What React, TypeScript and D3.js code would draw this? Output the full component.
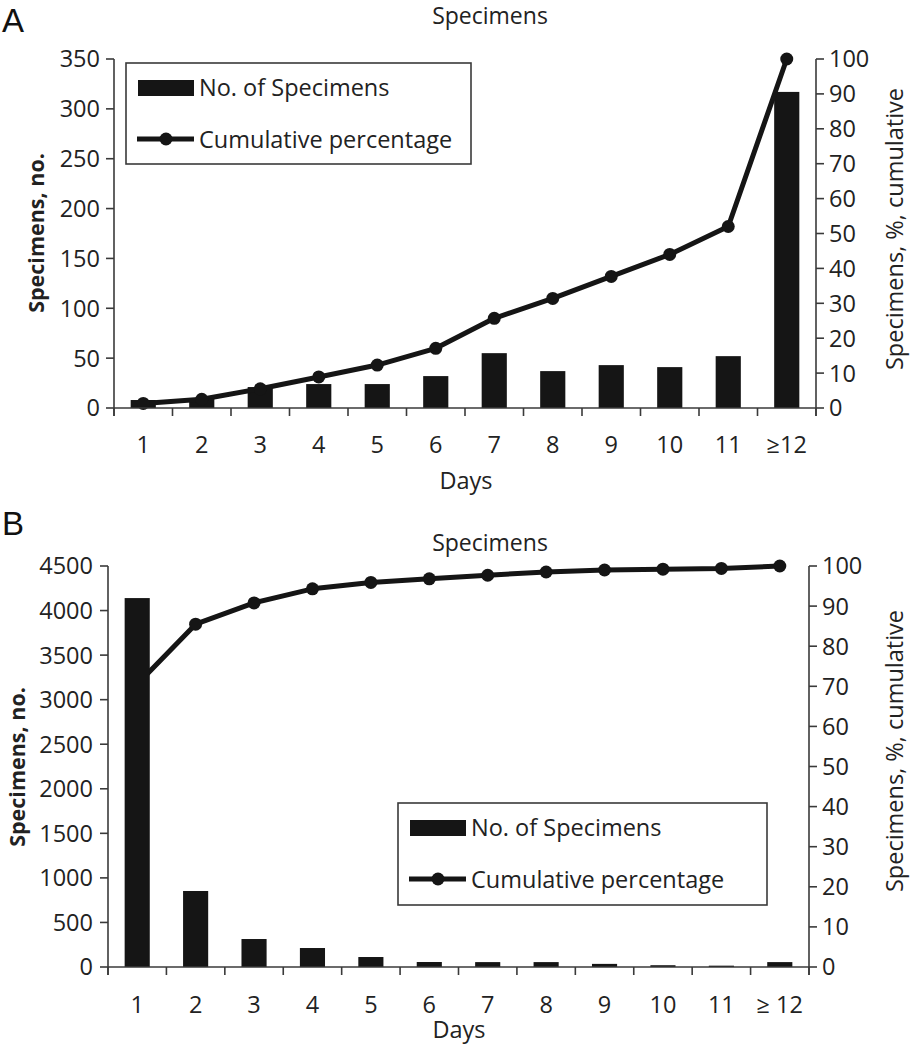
import React from "react";
import * as d3 from "d3";

// ---------- Data ----------
const daysA = ["1", "2", "3", "4", "5", "6", "7", "8", "9", "10", "11", "≥12"];
const countsA = [8, 9, 21, 24, 24, 32, 55, 37, 43, 41, 52, 317];
const cumulativeA = [1.3, 2.5, 5.5, 8.9, 12.3, 17.1, 25.7, 31.4, 37.7, 44, 52, 100];
const leftTicksA = [0, 50, 100, 150, 200, 250, 300, 350];

const daysB = ["1", "2", "3", "4", "5", "6", "7", "8", "9", "10", "11", "≥ 12"];
const countsB = [4140, 853, 314, 213, 112, 56, 55, 55, 35, 20, 15, 55];
const cumulativeB = [70.5, 85.5, 90.8, 94.3, 95.9, 96.8, 97.7, 98.5, 99.0, 99.2, 99.4, 100];
const leftTicksB = [0, 500, 1000, 1500, 2000, 2500, 3000, 3500, 4000, 4500];

const rightTicks = [0, 10, 20, 30, 40, 50, 60, 70, 80, 90, 100];

const FONT = "'Open Sans', sans-serif";
const AXIS = "#3a3a3a";
const INK = "#151515";
const TXT = "#222";
const FS = 23.5;

type PanelProps = {
  letter: string;
  letterY: number;
  days: string[];
  counts: number[];
  cum: number[];
  leftTicks: number[];
  leftMax: number;
  x0: number;
  x1: number;
  yTop: number;
  yBot: number;
  titleY: number;
  daysX: number;
  daysY: number;
  tickLabelY: number;
  leftLabelX: number;
  leftTitleX: number;
  leftTitleY: number;
  rightTitleX: number;
  rightTitleY: number;
  legend: { x: number; y: number; w: number; h: number };
  barsOnTop: boolean;
};

function Panel(p: PanelProps) {
  const x = d3.scaleBand<string>().domain(p.days).range([p.x0, p.x1]).paddingInner(0.57).paddingOuter(0.285);
  const yL = d3.scaleLinear().domain([0, p.leftMax]).range([p.yBot, p.yTop]);
  const yR = d3.scaleLinear().domain([0, 100]).range([p.yBot, p.yTop]);
  const step = x.step();
  const cx = (d: string) => (x(d) as number) + x.bandwidth() / 2;
  const line = d3
    .line<number>()
    .x((_, i) => cx(p.days[i]))
    .y((v) => yR(v));
  const boundaries = d3.range(p.days.length + 1).map((i) => p.x0 + i * step);

  const bars = (
    <g>
      {p.counts.map((v, i) => (
        <rect key={i} x={x(p.days[i])} y={yL(v)} width={x.bandwidth()} height={p.yBot - yL(v)} fill={INK} />
      ))}
    </g>
  );
  const lineG = (
    <g>
      <path d={line(p.cum) || ""} fill="none" stroke={INK} strokeWidth={5} strokeLinejoin="round" />
      {p.cum.map((v, i) => (
        <circle key={i} cx={cx(p.days[i])} cy={yR(v)} r={6.5} fill={INK} />
      ))}
    </g>
  );
  const lg = p.legend;
  return (
    <g fontFamily={FONT} fill={TXT}>
      <text x={2} y={p.letterY} fontSize={33} fontFamily="'Liberation Sans', Arial, sans-serif" fill="#111">
        {p.letter}
      </text>
      <text x={490} y={p.titleY} fontSize={23} textAnchor="middle">
        Specimens
      </text>
      {p.barsOnTop ? lineG : bars}
      {p.barsOnTop ? bars : lineG}
      {/* axes */}
      <g stroke={AXIS} strokeWidth={1.6} fill="none">
        <line x1={p.x0} x2={p.x0} y1={p.yTop} y2={p.yBot + 8} />
        <line x1={p.x1} x2={p.x1} y1={p.yTop} y2={p.yBot + 8} />
        <line x1={p.x0} x2={p.x1} y1={p.yBot} y2={p.yBot} />
        {boundaries.map((bx, i) => (
          <line key={"b" + i} x1={bx} x2={bx} y1={p.yBot} y2={p.yBot + 8} />
        ))}
        {p.leftTicks.map((t) => (
          <line key={"l" + t} x1={p.x0 - 8} x2={p.x0} y1={yL(t)} y2={yL(t)} />
        ))}
        {rightTicks.map((t) => (
          <line key={"r" + t} x1={p.x1} x2={p.x1 + 8} y1={yR(t)} y2={yR(t)} />
        ))}
      </g>
      {p.leftTicks.map((t) => (
        <text key={"lt" + t} x={p.leftLabelX} y={yL(t)} dy="0.36em" fontSize={FS} textAnchor="end">
          {t}
        </text>
      ))}
      {rightTicks.map((t) => (
        <text key={"rt" + t} x={p.x1 + 13} y={yR(t)} dy="0.36em" fontSize={FS} textAnchor="start">
          {t}
        </text>
      ))}
      {p.days.map((d) => (
        <text key={"x" + d} x={cx(d)} y={p.tickLabelY} fontSize={FS} textAnchor="middle">
          {d}
        </text>
      ))}
      <text x={p.daysX} y={p.daysY} fontSize={FS} textAnchor="middle">
        Days
      </text>
      <text
        transform={`translate(${p.leftTitleX},${p.leftTitleY}) rotate(-90)`}
        fontSize={21.5}
        fontWeight="bold"
        textAnchor="middle"
        dy="0.35em"
      >
        Specimens, no.
      </text>
      <text
        transform={`translate(${p.rightTitleX},${p.rightTitleY}) rotate(-90)`}
        fontSize={FS}
        textAnchor="middle"
        dy="0.35em"
      >
        Specimens, %, cumulative
      </text>
      {/* legend */}
      <g>
        <rect x={lg.x} y={lg.y} width={lg.w} height={lg.h} fill="#fff" stroke={AXIS} strokeWidth={1.6} />
        <rect x={lg.x + 12} y={lg.y + 17} width={56} height={16} fill={INK} />
        <text x={lg.x + 73} y={lg.y + 33} fontSize={FS}>
          No. of Specimens
        </text>
        <line x1={lg.x + 11} x2={lg.x + 68} y1={lg.y + 76} y2={lg.y + 76} stroke={INK} strokeWidth={5} />
        <circle cx={lg.x + 40} cy={lg.y + 76} r={6.5} fill={INK} />
        <text x={lg.x + 73} y={lg.y + 85} fontSize={FS}>
          Cumulative percentage
        </text>
      </g>
    </g>
  );
}

export default function App() {
  return (
    <svg width={910} height={1050} style={{ display: "block", position: "absolute", left: 0, top: 0, background: "#fff" }}>
      <rect width={910} height={1050} fill="#fff" />
      <Panel
        letter="A"
        letterY={32}
        days={daysA}
        counts={countsA}
        cum={cumulativeA}
        leftTicks={leftTicksA}
        leftMax={350}
        x0={114}
        x1={816}
        yTop={59}
        yBot={408}
        titleY={24}
        daysX={466}
        daysY={489}
        tickLabelY={453}
        leftLabelX={100}
        leftTitleX={36}
        leftTitleY={233}
        rightTitleX={895}
        rightTitleY={229}
        legend={{ x: 126, y: 63, w: 345, h: 101 }}
        barsOnTop={false}
      />
      <Panel
        letter="B"
        letterY={535}
        days={daysB}
        counts={countsB}
        cum={cumulativeB}
        leftTicks={leftTicksB}
        leftMax={4500}
        x0={108}
        x1={809}
        yTop={566}
        yBot={967}
        titleY={551}
        daysX={459}
        daysY={1038}
        tickLabelY={1013}
        leftLabelX={93}
        leftTitleX={17}
        leftTitleY={767}
        rightTitleX={895}
        rightTitleY={751}
        legend={{ x: 398, y: 803, w: 369, h: 102 }}
        barsOnTop={true}
      />
    </svg>
  );
}
